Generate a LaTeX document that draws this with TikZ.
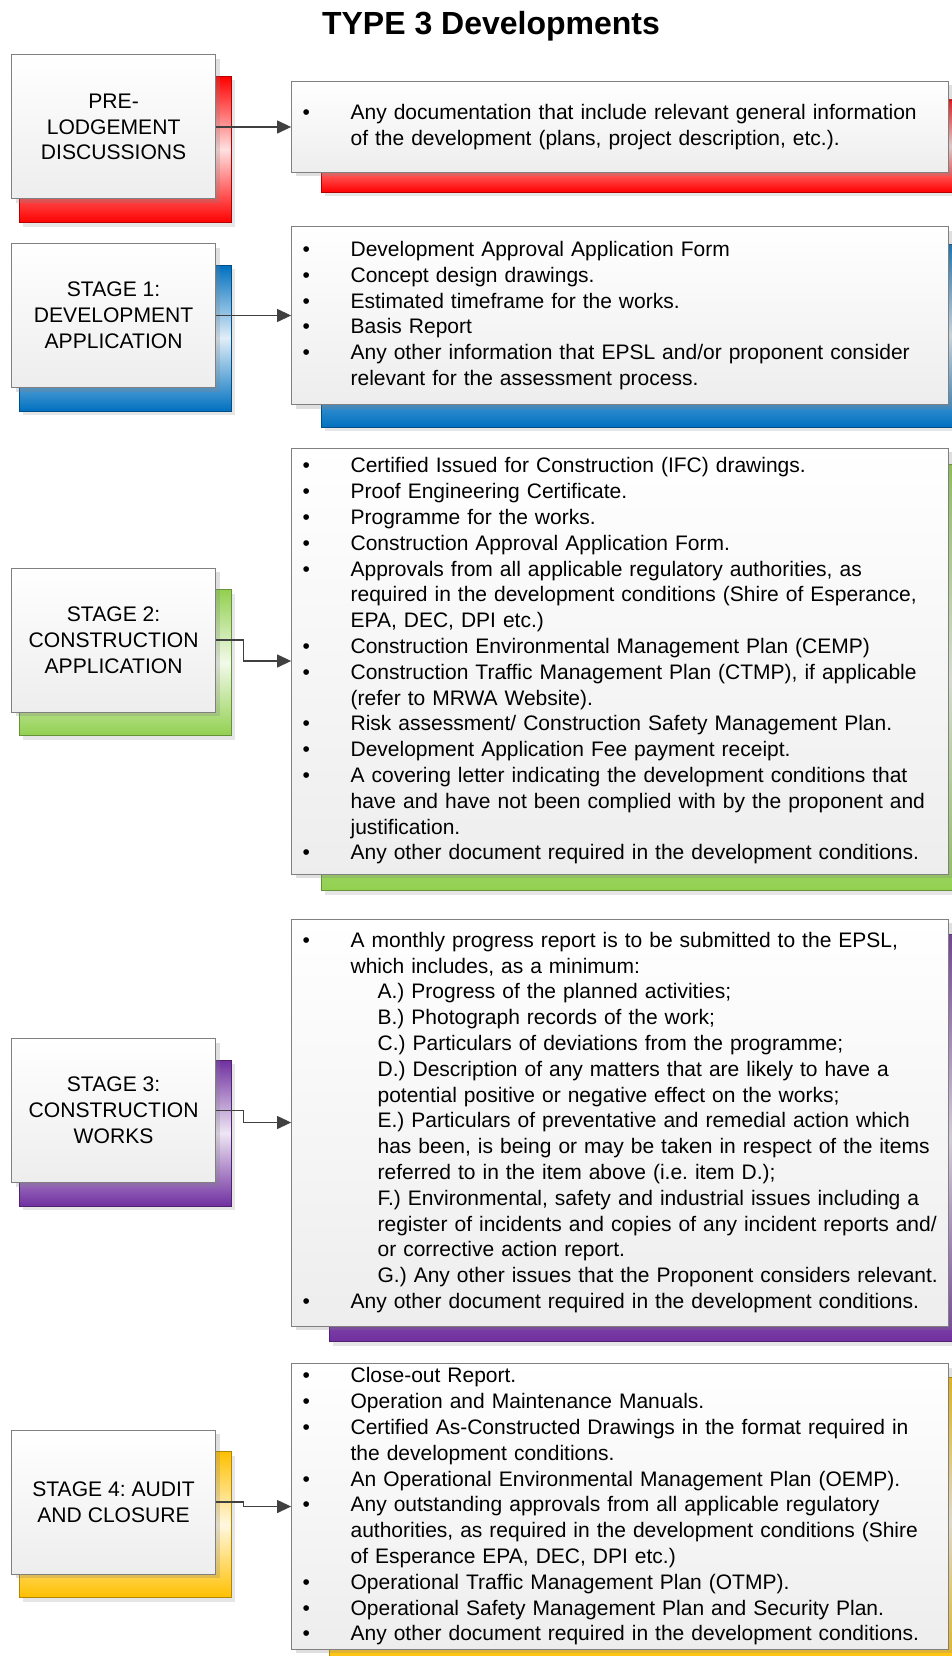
\documentclass[tikz,border=0pt]{standalone}
\usepackage{fontspec}
\setmainfont{Liberation Sans}
\usepackage{tikz}
\usetikzlibrary{positioning,calc,arrows.meta,shadows,backgrounds}

\definecolor{stagered}{HTML}{FF0000}
\definecolor{stageblue}{HTML}{0070C0}
\definecolor{stagegreen}{HTML}{92D050}
\definecolor{stagepurple}{HTML}{7030A0}
\definecolor{stagegold}{HTML}{FFC000}
\definecolor{boxgray}{HTML}{808080}
\definecolor{linegray}{HTML}{404040}

\tikzstyle{line} = [draw=linegray, line width=1.2pt, -{Triangle[length=14pt,width=13pt]}]
\tikzstyle{stage} = [rectangle, draw=boxgray, line width=1pt, top color=white, bottom color=black!7,
  minimum width=204pt, minimum height=144pt, align=center,
  font=\fontsize{21.1}{25.8}\selectfont,
  drop shadow={shadow xshift=4pt, shadow yshift=-4pt, opacity=0.25}]
\tikzstyle{docs} = [rectangle, draw=boxgray, line width=1pt, top color=white, bottom color=black!7,
  text width=657pt, inner xsep=0pt, inner ysep=4pt, align=left,
  font=\fontsize{21.0}{25.8}\selectfont,
  drop shadow={shadow xshift=4pt, shadow yshift=-4pt, opacity=0.25}]
\tikzset{backing/.style={draw=#1!70!black, line width=0.8pt, top color=#1, bottom color=#1, middle color=#1!12,
  drop shadow={shadow xshift=4pt, shadow yshift=-4pt, opacity=0.2}}}

\newcommand{\docitem}{\hspace*{11pt}\makebox[48pt][l]{\textbullet}}
\newcommand{\docmore}{\hspace*{59pt}}
\newcommand{\docsub}{\hspace*{86pt}}

\begin{document}
\frenchspacing
\begin{tikzpicture}[x=1pt,y=-1pt]
    \useasboundingbox (0,0) rectangle (952,1656);
    \node[font=\bfseries\fontsize{32}{38}\selectfont] (title) at (491,26) {TYPE 3 Developments};

    % stages
    \node[stage] (pre) at (113.6,127) {PRE-\\LODGEMENT\\DISCUSSIONS};
    \node[stage] (stg1) at (113.6,315.5) {STAGE 1:\\DEVELOPMENT\\APPLICATION};
    \node[stage] (stg2) at (113.6,640) {STAGE 2:\\CONSTRUCTION\\APPLICATION};
    \node[stage] (stg3) at (113.6,1110.5) {STAGE 3:\\CONSTRUCTION\\WORKS};
    \node[stage] (stg4) at (113.6,1502) {STAGE 4: AUDIT\\AND CLOSURE};

    % documents
    \node[docs, minimum height=91pt] (predocs) [right=75pt of pre] {%
      \docitem Any documentation that include relevant general information\\
      \docmore of the development (plans, project description, etc.).};
    \node[docs, minimum height=178pt] (devdocs) [right=75pt of stg1] {%
      \docitem Development Approval Application Form\\
      \docitem Concept design drawings.\\
      \docitem Estimated timeframe for the works.\\
      \docitem Basis Report\\
      \docitem Any other information that EPSL and/or proponent consider\\
      \docmore relevant for the assessment process.};
    \node[docs, minimum height=426pt] (condocs) [right=75pt of stg2, yshift=-21pt] {%
      \docitem Certified Issued for Construction (IFC) drawings.\\
      \docitem Proof Engineering Certificate.\\
      \docitem Programme for the works.\\
      \docitem Construction Approval Application Form.\\
      \docitem Approvals from all applicable regulatory authorities, as\\
      \docmore required in the development conditions (Shire of Esperance,\\
      \docmore EPA, DEC, DPI etc.)\\
      \docitem Construction Environmental Management Plan (CEMP)\\
      \docitem Construction Traffic Management Plan (CTMP), if applicable\\
      \docmore (refer to MRWA Website).\\
      \docitem Risk assessment/ Construction Safety Management Plan.\\
      \docitem Development Application Fee payment receipt.\\
      \docitem A covering letter indicating the development conditions that\\
      \docmore have and have not been complied with by the proponent and\\
      \docmore justification.\\
      \docitem Any other document required in the development conditions.};
    \node[docs, minimum height=407pt] (workdocs) [right=75pt of stg3, yshift=-12pt] {%
      \docitem A monthly progress report is to be submitted to the EPSL,\\
      \docmore which includes, as a minimum:\\
      \docsub A.) Progress of the planned activities;\\
      \docsub B.) Photograph records of the work;\\
      \docsub C.) Particulars of deviations from the programme;\\
      \docsub D.) Description of any matters that are likely to have a\\
      \docsub potential positive or negative effect on the works;\\
      \docsub E.) Particulars of preventative and remedial action which\\
      \docsub has been, is being or may be taken in respect of the items\\
      \docsub referred to in the item above (i.e. item D.);\\
      \docsub F.) Environmental, safety and industrial issues including a\\
      \docsub register of incidents and copies of any incident reports and/\\
      \docsub or corrective action report.\\
      \docsub G.) Any other issues that the Proponent considers relevant.\\
      \docitem Any other document required in the development conditions.};
    \node[docs, minimum height=283pt] (auditdocs) [right=75pt of stg4, yshift=-4.5pt] {%
      \docitem Close-out Report.\\
      \docitem Operation and Maintenance Manuals.\\
      \docitem Certified As-Constructed Drawings in the format required in\\
      \docmore the development conditions.\\
      \docitem An Operational Environmental Management Plan (OEMP).\\
      \docitem Any outstanding approvals from all applicable regulatory\\
      \docmore authorities, as required in the development conditions (Shire\\
      \docmore of Esperance EPA, DEC, DPI etc.)\\
      \docitem Operational Traffic Management Plan (OTMP).\\
      \docitem Operational Safety Management Plan and Security Plan.\\
      \docitem Any other document required in the development conditions.};

    % coloured backings
    \begin{scope}[on background layer]
        \clip (0,0) rectangle (952,1656);
        \path[backing=stagered] ($(pre.north west)+(8,22)$) rectangle ($(pre.south east)+(15,23)$);
        \path[backing=stageblue] ($(stg1.north west)+(8,22)$) rectangle ($(stg1.south east)+(15,23)$);
        \path[backing=stagegreen] ($(stg2.north west)+(8,22)$) rectangle ($(stg2.south east)+(15,23)$);
        \path[backing=stagepurple] ($(stg3.north west)+(8,22)$) rectangle ($(stg3.south east)+(15,23)$);
        \path[backing=stagegold] ($(stg4.north west)+(8,22)$) rectangle ($(stg4.south east)+(15,23)$);
        \path[backing=stagered] ($(predocs.north west)+(30,19)$) rectangle ($(predocs.south east)+(30,19)$);
        \path[backing=stageblue] ($(devdocs.north west)+(30,18)$) rectangle ($(devdocs.south east)+(30,22)$);
        \path[backing=stagegreen] ($(condocs.north west)+(30,17)$) rectangle ($(condocs.south east)+(30,16)$);
        \path[backing=stagepurple] ($(workdocs.north west)+(38,16)$) rectangle ($(workdocs.south east)+(38,15)$);
        \path[backing=stagegold] ($(auditdocs.north west)+(38,14)$) rectangle ($(auditdocs.south east)+(38,17)$);
    \end{scope}

    \path [line] (pre) -- (predocs);
    \path [line] (stg1) -- (devdocs);
    \path [line] (stg2.east) -- ++(27,0) |- (condocs.west);
    \path [line] (stg3.east) -- ++(27,0) |- (workdocs.west);
    \path [line] (stg4.east) -- ++(27,0) |- (auditdocs.west);
\end{tikzpicture}
\end{document}
